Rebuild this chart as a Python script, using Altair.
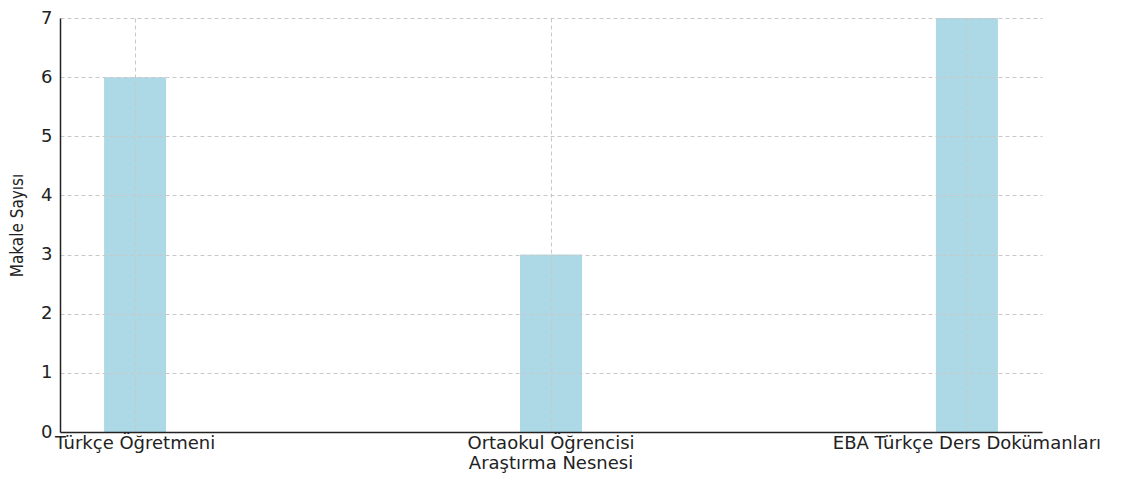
import altair as alt
import pandas as pd

categories = ["Türkçe Öğretmeni", "Ortaokul Öğrencisi|Araştırma Nesnesi", "EBA Türkçe Ders Dokümanları"]
counts = [6, 3, 7]

df = pd.DataFrame({"kategori": categories, "sayi": counts})

font = "DejaVu Sans"

chart = alt.Chart(df).mark_bar(color="#ADD8E6").encode(
    x=alt.X(
        "kategori:N",
        sort=None,
        scale=alt.Scale(paddingInner=0.851, paddingOuter=0.106),
        axis=alt.Axis(
            title=None,
            labelAngle=0,
            labelExpr="split(datum.label, '|')",
            labelFont=font,
            labelFontSize=18,
            labelColor="#222222",
            labelPadding=2,
            labelLineHeight=20,
            labelLimit=0,
            labelOverlap=False,
            ticks=False,
            domainColor="#222222",
            domainWidth=1.5,
            grid=True,
            gridColor="#c8c8c8",
            gridDash=[4, 3],
            gridWidth=1,
            bandPosition=0.5,
            zindex=1,
        ),
    ),
    y=alt.Y(
        "sayi:Q",
        scale=alt.Scale(domain=[0, 7], nice=False),
        axis=alt.Axis(
            title="Makale Sayısı",
            titleFont="DejaVu Sans Condensed, Liberation Sans Narrow, Roboto Condensed, sans-serif",
            titleFontSize=17,
            titleFontWeight="normal",
            titleColor="#222222",
            titlePadding=14,
            values=[0, 1, 2, 3, 4, 5, 6, 7],
            labelFont=font,
            labelFontSize=18,
            labelColor="#222222",
            labelPadding=8,
            ticks=False,
            domainColor="#222222",
            domainWidth=1.5,
            grid=True,
            gridColor="#c8c8c8",
            gridDash=[4, 3],
            gridWidth=1,
            zindex=1,
        ),
    ),
).properties(
    width=982,
    height=414,
    autosize=alt.AutoSizeParams(type="none"),
    padding={"left": 52, "top": 10, "right": 79, "bottom": 42},
).configure_view(stroke=None)

chart.save("out.html", embed_options={"renderer": "svg", "actions": False})
